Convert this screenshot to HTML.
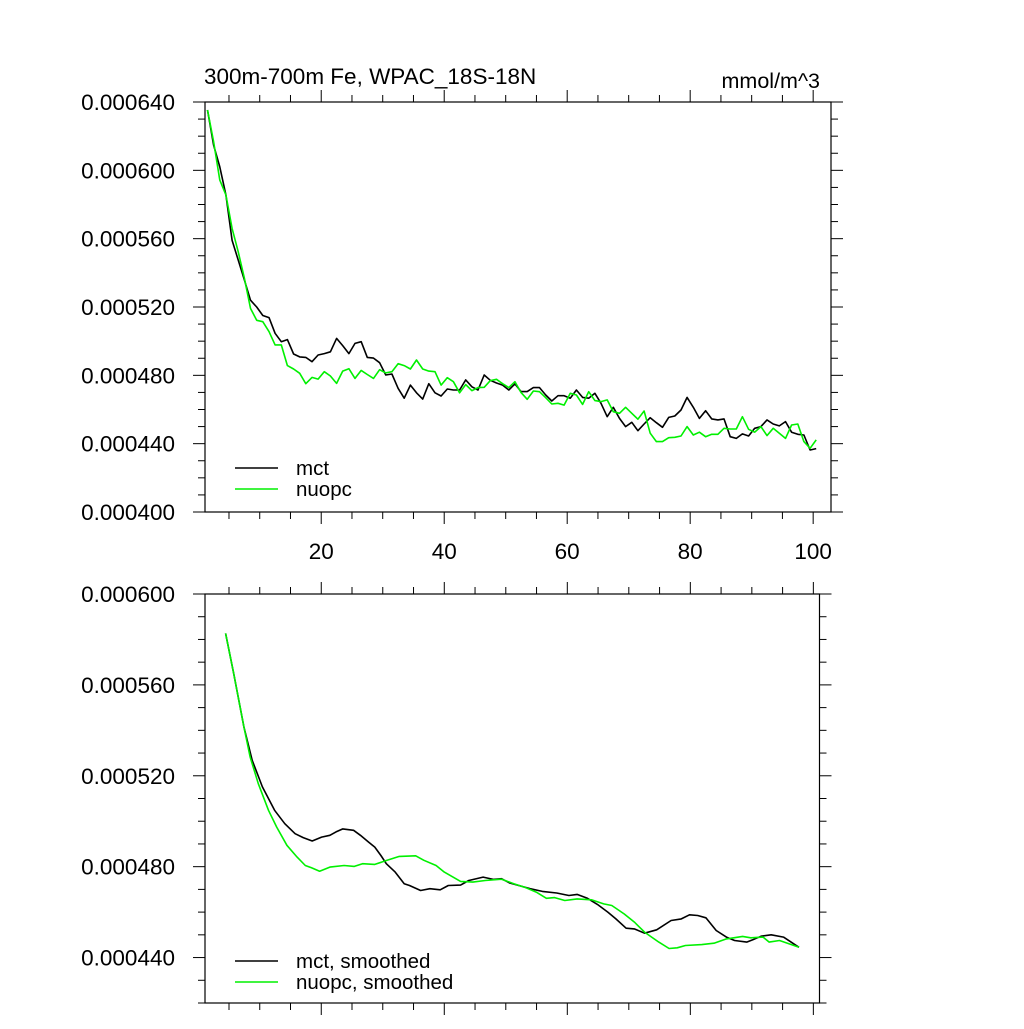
<!DOCTYPE html>
<html><head><meta charset="utf-8"><style>
html,body{margin:0;padding:0;background:#fff;}
svg text{font-family:"Liberation Sans",Arial,sans-serif;fill:#000;}
</style></head><body>
<svg id="chart" width="1024" height="1024" xmlns="http://www.w3.org/2000/svg">
<rect width="1024" height="1024" fill="#fff"/>
<text x="204" y="84" font-size="22.5">300m-700m Fe, WPAC_18S-18N</text>
<text x="820" y="88" font-size="21.5" text-anchor="end">mmol/m^3</text>
<g id="top"></g>
<g id="bot"></g>
</svg>
<script>
// Top panel data (units 1e-6 mmol/m^3), x = 1.5 + index
const mctRaw = [635.3,614.8,602,585.6,559,547.5,535.8,524,520,515,513.8,504.6,499.7,500.9,492.5,490.8,490.5,488,491.9,492.7,493.8,501.6,497.4,492.7,498.7,499.7,490.5,490.1,487.4,480.2,480.8,472.4,466.6,474.3,469.8,466.1,475.1,469.8,467.9,472,471.4,471.4,477.3,473.3,471.4,480.2,477.1,475.5,474.3,471.4,475,
470.5,470.5,472.8,472.8,468.5,465,468.1,468.1,466.6,471.4,467.1,466.6,469.5,463.6,455.8,461.3,454.8,450,452.5,447.6,451.5,455.2,452.3,449.6,455.4,456.2,459.7,467.1,461.3,454.8,459.3,454.5,453.9,454.5,444.1,443.1,445.7,444.5,449,450,453.9,451.5,450.4,452.9,446.7,445.5,445.1,436.3,437.1];
const nuopcRaw = [635.3,616.8,594.3,585.6,566,552.4,536.8,519.2,512.2,511.4,505.6,497.8,497.8,485.7,483.7,481.2,475.1,478.8,477.8,482.1,479.6,475.3,482.5,483.9,478.2,482.9,480.5,478.2,483.3,481.4,482.1,486.8,485.7,483.7,489,483.7,482.5,482.1,474.3,478.6,476.3,469.8,474.6,471,472.8,473,476.9,477.7,475.1,472.8,476.3,
469.9,466,470.8,470.4,466.9,463.2,463.6,462.6,469.5,468.5,463,470.4,465.2,464.6,465.6,458.7,457.8,461.3,457.8,454.3,459.1,446.1,441.2,441.2,443.5,443.7,444.5,450,445.1,446.7,444.1,445.5,445.5,449,448.6,448.6,455.8,448.4,446.7,450,444.7,449,446.1,443.1,450.9,451.5,441.2,437.3,442.2];
const topYTicks = ["0.000400","0.000440","0.000480","0.000520","0.000560","0.000600","0.000640"];
const xTickLabels = ["20","40","60","80","100"];
// Bottom panel smoothed data
const mctSmX = [4.45,5.77,7.43,8.77,10.43,12.42,14.08,15.74,17.07,18.53,20.06,21.4,22.39,23.5,25.25,26.37,27.7,28.7,29.7,30.57,32.02,33.48,34.34,36.15,37.67,39.33,40.66,42.65,43.98,46.31,47.97,49.3,50.63,52.62,53.95,55.95,58.28,60.26,61.6,63.26,64.9,66.59,67.9,69.56,70.9,72.55,74.54,76.88,78.54,79.87,81.2,82.53,84.2,85.86,87.2,89.17,90.16,91.5,93.15,95.15,97.67];
const mctSmY = [582.66,565,541.5,526.8,515.1,504.8,498.9,494.5,492.8,491.3,493,493.8,495.3,496.6,496,493.8,490.8,488.6,484.9,481.3,477.6,472.5,471.7,469.5,470.3,469.8,471.7,471.9,473.9,475.4,474.4,474.7,472.8,471.3,470.3,469.1,468.4,467.3,467.8,466.1,463.4,460,457,452.9,452.6,450.7,452.2,456.3,457,458.8,458.5,457.5,451.9,449,447.5,446.8,447.8,449.4,450,449,444.5];
const nuopcSmX = [4.45,5.77,7.43,8.43,9.76,11.42,12.75,14.41,16.08,17.4,18.41,19.73,21.4,23.72,25.38,26.71,28.7,30.7,32.68,35.35,36.68,38.67,40,42.65,44.65,46.65,49.3,51.3,53.3,54.94,56.6,57.94,59.6,61.6,63.92,65.92,67.24,69.23,70.9,72.55,74.88,76.55,77.87,79.2,81.86,83.85,85.86,88.5,89.83,91.83,92.83,94.5,97.67];
const nuopcSmY = [582.66,565,541.5,528.3,516.5,504.8,497.4,489.4,484.2,480.5,479.5,478,479.8,480.5,480.1,481.3,481,482.8,484.5,484.8,482.8,480.5,477.6,473.5,473.2,473.9,474.5,472.5,470.7,468.8,466.1,466.4,465.1,465.8,465.4,463.6,462.9,459.2,455.6,451.2,446.8,444,444.3,445.3,445.7,446.3,448.2,449.3,448.7,449,446.8,447.5,444.5];
const botYTicks = ["0.000440","0.000480","0.000520","0.000560","0.000600"];

const NS="http://www.w3.org/2000/svg";
function mk(parent,tag,attrs){const e=document.createElementNS(NS,tag);for(const k in attrs)e.setAttribute(k,attrs[k]);parent.appendChild(e);return e;}

function panel(g,L,R,T,B,xmin,xmax,ymin,ymax,showXLabels,yLabels,yLabelStart){
  const sx=v=>L+(v-xmin)/(xmax-xmin)*(R-L);
  const sy=v=>B-(v-ymin)/(ymax-ymin)*(B-T);
  const f=mk(g,'rect',{x:L,y:T,width:R-L,height:B-T,fill:'none',stroke:'#000','stroke-width':1.2});
  
  
  for(let v=5;v<=xmax;v+=5){
    const x=sx(v),maj=v%20===0,len=maj?12:7;
    const t1=mk(g,'line',{x1:x,x2:x,y1:B,y2:B+len,stroke:'#000','stroke-width':1});
    
    
    const t2=mk(g,'line',{x1:x,x2:x,y1:T,y2:T-len,stroke:'#000','stroke-width':1});
    
    
    if(maj&&showXLabels){
      const tx=mk(g,'text',{x:x,y:B+47,'font-size':22.5,'text-anchor':'middle'});
      tx.textContent=xTickLabels[v/20-1];
      
      
    }
  }
  for(let v=Math.ceil(ymin/10)*10;v<=ymax+0.01;v+=10){
    const y=sy(v),maj=Math.round(v)%40===0,len=maj?12:7;
    const a=mk(g,'line',{x1:L,x2:L-len,y1:y,y2:y,stroke:'#000','stroke-width':1});
    
    
    const b=mk(g,'line',{x1:R,x2:R+len,y1:y,y2:y,stroke:'#000','stroke-width':1});
    
    
  }
  yLabels.forEach((lab,i)=>{
    const v=yLabelStart+40*i;
    const tx=mk(g,'text',{x:175,y:sy(v)+8,'font-size':22.5,'text-anchor':'end'});
    tx.textContent=lab;
    
    
  });
  return {sx,sy};
}
function series(g,s,xs,ys,color,name){
  const d=xs.map((x,i)=>(i?'L':'M')+s.sx(x).toFixed(1)+' '+s.sy(ys[i]).toFixed(1)).join(' ');
  const p=mk(g,'path',{d:d,fill:'none',stroke:color,'stroke-width':1.6,'stroke-linejoin':'round'});
  
  
}
function legend(g,y,label,color){
  const l=mk(g,'line',{x1:235,x2:278,y1:y,y2:y,stroke:color,'stroke-width':1.6});
  
  
  const t=mk(g,'text',{x:296,y:y+7,'font-size':20.5});
  t.textContent=label;
  
  
}
const gt=document.getElementById('top');
const st=panel(gt,205,831,102,512,1.1,102.9,400,640,true,topYTicks,400);
const topX=mctRaw.map((_,i)=>1.5+i);
series(gt,st,topX,mctRaw,'#000','mct-line');
series(gt,st,topX,nuopcRaw,'#00f000','nuopc-line');
legend(gt,468,'mct','#000');
legend(gt,489,'nuopc','#00f000');

const gb=document.getElementById('bot');
const sb=panel(gb,205,819.5,594,1003,1.1,101,420,600,false,botYTicks,440);
series(gb,sb,mctSmX,mctSmY,'#000','mct-smoothed-line');
series(gb,sb,nuopcSmX,nuopcSmY,'#00f000','nuopc-smoothed-line');
legend(gb,961,'mct, smoothed','#000');
legend(gb,982,'nuopc, smoothed','#00f000');
</script>
</body></html>
